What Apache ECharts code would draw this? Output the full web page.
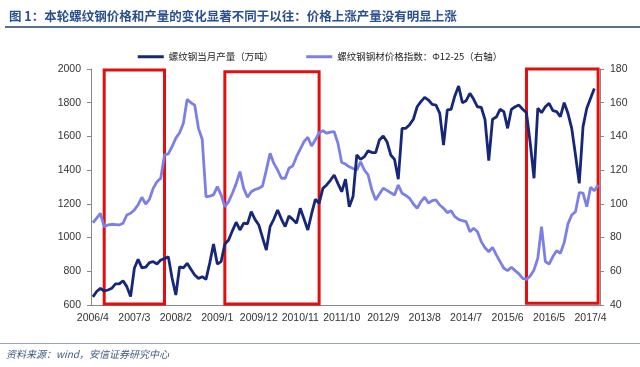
<!DOCTYPE html>
<html><head><meta charset="utf-8">
<script src="https://cdn.jsdelivr.net/npm/echarts@6/dist/echarts.min.js"></script>
<style>html,body{margin:0;padding:0;background:#fff}#c{width:640px;height:367px}</style>
</head><body><div id="c"></div>
<script>
// Monthly categories 2006/4 .. 2017/6
const months = [];
for (let y = 2006, m = 4; months.length < 135;) { months.push(y + '/' + m); m++; if (m > 12) { m = 1; y++; } }

// 螺纹钢当月产量（万吨） — left axis
const output = [
  648,680,699,683,689,699,725,725,744,709,650,818,871,820,824,851,857,843,867,875,
  887,760,659,827,820,847,812,778,758,768,752,850,962,843,857,962,986,1040,1091,1045,
  1085,1081,1154,1108,1075,1000,926,1065,1110,1164,1110,1065,1128,1108,1085,1174,1110,1045,1140,1227,
  1203,1292,1312,1340,1371,1320,1272,1346,1183,1243,1490,1464,1480,1515,1504,1504,1579,1603,1569,1490,
  1464,1346,1648,1648,1670,1702,1776,1806,1832,1816,1790,1786,1737,1549,1757,1761,1840,1899,1800,1812,
  1856,1820,1776,1773,1700,1456,1702,1715,1761,1747,1648,1761,1776,1786,1761,1740,1560,1352,1767,1741,
  1776,1796,1753,1747,1717,1800,1737,1648,1490,1322,1658,1767,1826,1885
];
// 螺纹钢钢材价格指数：Φ12-25（右轴） — right axis
const priceIndex = [
  88.8,91.5,94.4,86.5,87.5,87.9,87.7,87.5,88.5,93.4,94.4,96.4,99.5,103.9,99.9,102.7,109.2,113.1,115.2,129,
  129.6,133.9,139,142.2,147.8,162,160,158.6,144.8,138.3,104.2,104.6,105.3,110.2,105.3,98.3,101.3,106.3,112,119.1,
  109.2,103.9,107.2,108.5,109.2,110.6,120,130,124,120.1,115.2,115.2,121.1,122.5,128,132.4,136.9,139.5,134.3,138,
  142.2,143.4,141.9,142.5,142.8,135.9,124.5,123.6,122,121,120.1,125,120.1,117.1,108.2,102.3,105.8,109.2,108,106.6,
  105.3,111.2,106.3,105,103.3,99.9,97.4,101.3,103.9,100.5,101.9,102.3,99.3,97.4,94.8,95.9,92.4,90.8,90,89.4,
  83.5,85.5,83.5,77.6,74,71.6,74.2,69.7,65.7,61.8,60.4,62.4,60.4,58.5,55.8,55.2,57.2,60.8,67.7,86.5,
  65.7,64.3,68.7,72.2,70.7,77,88.1,93.4,95.3,106.6,106.3,98.3,109.8,107.8,111.2
];
// highlighted periods (red frames): [start month, end month, low, high] on left axis
const periods = [
  ['2006/7', '2007/11', 606, 1994],
  ['2009/3', '2011/4', 606, 1984],
  ['2015/11', '2017/6', 610, 2012]
];
const seriesNames = ['螺纹钢当月产量（万吨）', '螺纹钢钢材价格指数：Φ12-25（右轴）'];
const titleText = '图 1：本轮螺纹钢价格和产量的变化显著不同于以往：价格上涨产量没有明显上涨';
const sourceText = '资料来源：wind，安信证券研究中心';

const chart = echarts.init(document.getElementById('c'), null, { renderer: 'canvas' });
const axisFont = { fontFamily: 'Liberation Sans, Arial, sans-serif', fontSize: 10.5, color: '#333' };
const plain = v => String(v);
chart.setOption({
  animation: false,
  backgroundColor: '#fff',
  title: {
    text: titleText, left: 4, top: 5,
    textStyle: { fontFamily: 'Noto Sans CJK SC', fontSize: 12.5, fontWeight: 'bold', color: '#2a4f8f' }
  },
  graphic: [
    { type: 'rect', shape: { x: 5, y: 26, width: 635, height: 2 }, style: { fill: '#5b7088' } },
    { type: 'rect', shape: { x: 0, y: 343, width: 640, height: 1 }, style: { fill: '#9aa6b2' } },
    { type: 'text', left: 6, top: 349, style: { text: sourceText, font: 'italic 10px "Noto Sans CJK SC"', fill: '#3d5a80' } }
  ],
  legend: {
    top: 47, left: 'center', itemGap: 33, itemWidth: 26, itemHeight: 3,
    icon: 'rect',
    textStyle: { fontFamily: 'Noto Sans CJK SC', fontSize: 9.5, color: '#222' },
    data: seriesNames
  },
  grid: { left: 91, right: 40, top: 69, bottom: 62 },
  xAxis: {
    type: 'category', data: months, boundaryGap: true,
    axisLine: { lineStyle: { color: '#888', width: 1 } },
    axisTick: { interval: 10, alignWithLabel: true, length: 4, lineStyle: { color: '#888' } },
    axisLabel: Object.assign({ interval: 10, margin: 8 }, axisFont)
  },
  yAxis: [
    { type: 'value', min: 600, max: 2000, interval: 200, position: 'left',
      axisLine: { show: true, lineStyle: { color: '#888' } },
      axisTick: { show: true, length: 4, lineStyle: { color: '#888' } },
      splitLine: { show: false },
      axisLabel: Object.assign({ margin: 10, formatter: plain }, axisFont) },
    { type: 'value', min: 40, max: 180, interval: 20, position: 'right',
      axisLine: { show: true, lineStyle: { color: '#888' } },
      axisTick: { show: true, length: 4, lineStyle: { color: '#888' } },
      splitLine: { show: false },
      axisLabel: Object.assign({ margin: 10, formatter: plain }, axisFont) }
  ],
  series: [
    { name: seriesNames[0], type: 'line', yAxisIndex: 0, data: output, symbol: 'none',
      clip: false, z: 3,
      lineStyle: { color: '#16277a', width: 2.8 }, itemStyle: { color: '#16277a' },
      markArea: {
        silent: true,
        itemStyle: { color: 'rgba(0,0,0,0)', borderColor: '#e01010', borderWidth: 3 },
        data: periods.map(p => [{ xAxis: p[0], yAxis: p[2] }, { xAxis: p[1], yAxis: p[3] }])
      } },
    { name: seriesNames[1], type: 'line', yAxisIndex: 1, data: priceIndex, symbol: 'none', z: 2,
      lineStyle: { color: '#7b7fe6', width: 2.8 }, itemStyle: { color: '#7b7fe6' } }
  ]
});
</script></body></html>
